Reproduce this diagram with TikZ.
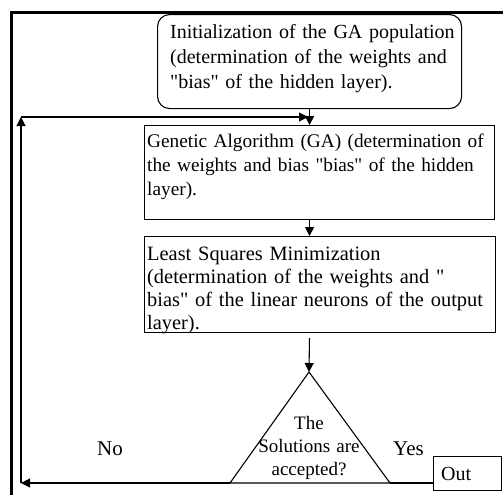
\documentclass[tikz,border=0pt]{standalone}
\usepackage{fontspec}
\setmainfont{Liberation Serif}[Ligatures=TeXOff]
\usetikzlibrary{arrows.meta}
\begin{document}
\begin{tikzpicture}[x=1pt,y=-1pt,
  box/.style={draw=black, line width=1.1pt, inner sep=0pt, anchor=north west},
  txt/.style={align=left, anchor=base west, inner sep=0pt, text width=370},
  lbl/.style={font=\fontsize{21}{24}\selectfont, anchor=base west, inner sep=0pt},
  conn/.style={draw=black, line width=1.1pt, -{Triangle[length=9pt,width=9pt]}},
  plain/.style={draw=black, line width=1.1pt}]
\useasboundingbox (0,0) rectangle (503,495);
\fill[white] (0,0) rectangle (503,495);
% frame (cropped)
\draw[line width=3.5pt] (503,12.5) -- (11.5,12.5) -- (11.5,495);

% boxes
\node[box, rounded corners=12pt, minimum width=304, minimum height=94] (init) at (157,14) {};
\node[txt, font=\fontsize{20}{25.5}\selectfont] (tinit) at (170,38) {Initialization of the GA population\\(determination of the weights and\\"bias" of the hidden layer).};

\node[box, minimum width=350, minimum height=94] (ga) at (144,125) {};
\node[txt, font=\fontsize{19.3}{24}\selectfont] (tga) at (147,147) {Genetic Algorithm (GA) (determination of\\the weights and bias "bias" of the hidden\\layer).};

\node[box, minimum width=351, minimum height=96] (lsm) at (144,236) {};
\node[txt, font=\fontsize{20.4}{23.2}\selectfont] (tlsm) at (147,260) {Least Squares Minimization\\(determination of the weights and "\\bias" of the linear neurons of the output\\layer).};

% decision triangle
\coordinate (apex) at (309,372);
\coordinate (bl) at (230,483);
\coordinate (br) at (390,483);
\draw[plain, line join=miter] (apex) -- (br) -- (bl) -- cycle;
\node[font=\fontsize{19}{23}\selectfont, align=center, text width=120, anchor=base, inner sep=0pt] (q) at (309,429) {The\\Solutions are\\accepted?};

% out box
\node[box, minimum width=68, minimum height=34] (out) at (433,456) {};
\node[lbl, font=\fontsize{20}{24}\selectfont] (tout) at (441,480) {Out};

% labels
\node[lbl] (no) at (97,455) {No};
\node[lbl] (yes) at (393,455) {Yes};

% loop corners
\coordinate (c1) at (21,483);
\coordinate (c2) at (21,117);
\coordinate (j) at (308,117);

% connectors
\draw[conn] (init.south) -- (init.south |- ga.north);
\draw[conn] (init.south |- ga.south) -- (init.south |- lsm.north);
\draw[conn, shorten <=5pt] (init.south |- lsm.south) -- (apex);
\draw[conn] (bl) -- (c1);
\draw[conn] (c1) -- (c2);
\draw[conn] (c2) -- (j);
\draw[plain] (br) -- (br -| out.west);
\end{tikzpicture}
\end{document}
